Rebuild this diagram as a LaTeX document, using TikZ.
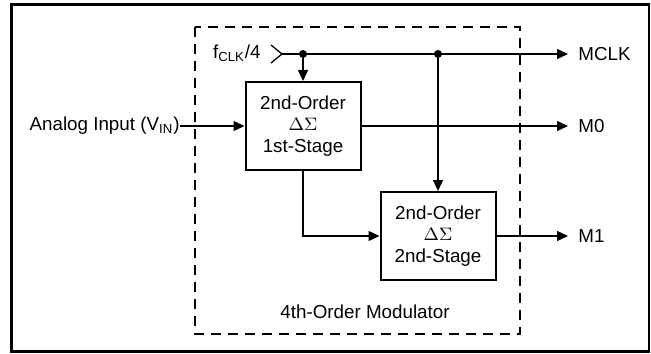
\documentclass[tikz,border=0pt]{standalone}
\usepackage{fontspec}
\setmainfont{Liberation Sans}
\usetikzlibrary{arrows.meta,positioning}

\tikzset{
  block/.style={draw, line width=1pt, minimum width=57.5pt, minimum height=44pt,
    align=center, inner sep=0pt, font=\fontsize{9.4}{10.75}\selectfont},
  wire/.style={line width=0.65pt},
  sig/.style={wire, -{Triangle[length=5.5pt,width=5pt]}},
  tap/.style={circle, fill, inner sep=0pt, minimum size=4pt},
  lbl/.style={inner sep=0pt, font=\fontsize{9.4}{10.75}\selectfont},
}

\begin{document}
\begin{tikzpicture}[x=0.5pt, y=-0.5pt]
\useasboundingbox (0,0) rectangle (651,353);

%Frame and modulator outline.
\draw[line width=1.25pt] (11.5,4.5) rectangle (649,351.5);
\draw[line width=1pt, dash pattern=on 5pt off 3.5pt] (195,27) rectangle (520,334);

%Declare nodes.
\node[block] (stage1) at (303,126) {2nd-Order\\$\Delta\Sigma$\\1st-Stage};
\node[block] (stage2) at (438,236) {2nd-Order\\$\Delta\Sigma$\\2nd-Stage};
\node[tap] (dotA) at (303,54) {};
\node[tap] (dotB) at (438,54) {};
\coordinate (clk) at (282,54);
\node[lbl, anchor=east] (fclk) at (261,53) {f\textsubscript{CLK}/4};
\node[lbl, anchor=east] (vin) at (180,126) {Analog Input (V\textsubscript{IN})\hspace{2.5pt}};
\node[lbl, anchor=west] (mclk) at (578,54) {MCLK};
\node[lbl, anchor=west] (mzero) at (578,126) {M0};
\node[lbl, anchor=west] (mone) at (578,236) {M1};
\node[lbl] (modulator) at (365,312) {4th-Order Modulator};

%Setup edges.
\draw[wire] ([xshift=-5.5pt,yshift=-4.5pt]clk) -- (clk) -- ([xshift=-5.5pt,yshift=4.5pt]clk);
\draw[sig] (clk) -- ([xshift=-5pt]mclk.west);
\draw[sig] (dotA) -- (stage1.north);
\draw[sig] (dotB) -- (stage2.north);
\draw[sig] (vin.east) -- (vin.east -| stage1.west);
\draw[sig] (stage1.east) -- ([xshift=-5pt]mzero.west);
\draw[sig] (stage1.south) |- (stage2.west);
\draw[sig] (stage2.east) -- ([xshift=-5pt]mone.west);

\end{tikzpicture}
\end{document}
